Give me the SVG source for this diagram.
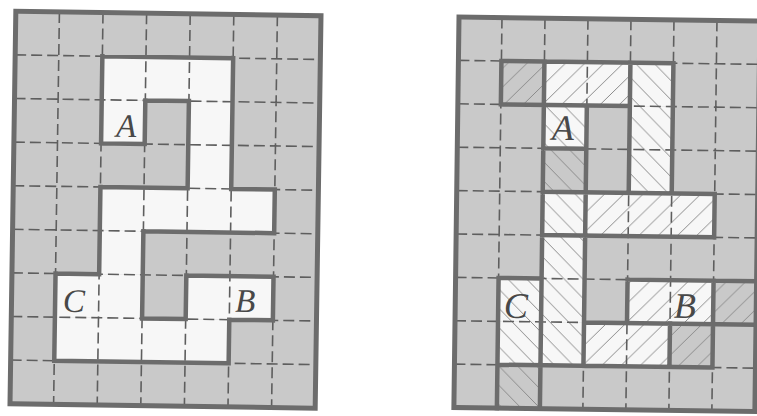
<svg xmlns="http://www.w3.org/2000/svg" width="757" height="416" viewBox="0 0 757 416">
<style>
.bg{fill:#c9c9c9}
.wh{fill:#f7f7f7}
.dash{fill:none;stroke:#5e5e5e;stroke-width:1.6;stroke-dasharray:11 5}
.thick{fill:none;stroke:#6c6c6c;stroke-width:4.5;stroke-linecap:square}
.border{fill:none;stroke:#6c6c6c;stroke-width:5}
.lbl{font-family:"Liberation Serif","DejaVu Serif",serif;font-style:italic;fill:#484848;text-anchor:middle}
.hf{fill:url(#hatchF)}
.hb{fill:url(#hatchB)}
</style>
<defs>
<pattern id="hatchF" patternUnits="userSpaceOnUse" width="19" height="19">
<path d="M-4,4 L4,-4 M0,19 L19,0 M15,23 L23,15" stroke="#8a8a8a" stroke-width="1"/>
</pattern>
<pattern id="hatchB" patternUnits="userSpaceOnUse" width="19" height="19">
<path d="M-4,15 L4,23 M0,0 L19,19 M15,-4 L23,4" stroke="#8a8a8a" stroke-width="1"/>
</pattern>
</defs>
<rect width="757" height="416" fill="#ffffff"/>

<g id="left-grid" transform="translate(165.5,209.75) rotate(0.85) translate(-152.6,-196.2)">
<rect class="bg" x="0" y="0" width="305.2" height="392.4"/>
<g id="left-white">
<rect class="wh" x="87.2" y="43.6" width="130.8" height="43.6"/>
<rect class="wh" x="87.2" y="87.2" width="43.6" height="43.6"/>
<rect class="wh" x="174.4" y="87.2" width="43.6" height="87.2"/>
<rect class="wh" x="87.2" y="174.4" width="174.4" height="43.6"/>
<rect class="wh" x="87.2" y="218" width="43.6" height="43.6"/>
<rect class="wh" x="43.6" y="261.6" width="87.2" height="43.6"/>
<rect class="wh" x="174.4" y="261.6" width="87.2" height="43.6"/>
<rect class="wh" x="43.6" y="305.2" width="174.4" height="43.6"/>
</g>
<path class="dash" d="M43.6,0V392.4M87.2,0V392.4M130.8,0V392.4M174.4,0V392.4M218,0V392.4M261.6,0V392.4M0,43.6H305.2M0,87.2H305.2M0,130.8H305.2M0,174.4H305.2M0,218H305.2M0,261.6H305.2M0,305.2H305.2M0,348.8H305.2"/>
<path class="thick" d="M87.2,43.6H218M130.8,87.2H174.4M87.2,130.8H130.8M87.2,174.4H174.4M218,174.4H261.6M130.8,218H261.6M43.6,261.6H87.2M174.4,261.6H261.6M130.8,305.2H174.4M218,305.2H261.6M43.6,348.8H218M43.6,261.6V348.8M87.2,43.6V130.8M87.2,174.4V261.6M130.8,87.2V130.8M130.8,218V305.2M174.4,87.2V174.4M174.4,261.6V305.2M218,43.6V174.4M218,305.2V348.8M261.6,174.4V218M261.6,261.6V305.2"/>
<rect class="border" x="0" y="0" width="305.2" height="392.4"/>
<text class="lbl" x="112" y="124" font-size="33">A</text>
<text class="lbl" x="62.4" y="299.8" font-size="33">C</text>
<text class="lbl" x="233.8" y="297.2" font-size="33">B</text>
</g>

<g id="right-grid" transform="translate(606.93,214.25) rotate(0.75) translate(-150.5,-195.3)">
<rect class="bg" x="0" y="0" width="301" height="390.6"/>
<g id="right-white">
<rect class="wh" x="86" y="43.4" width="129" height="43.4"/>
<rect class="wh" x="86" y="86.8" width="43" height="43.4"/>
<rect class="wh" x="172" y="86.8" width="43" height="86.8"/>
<rect class="wh" x="86" y="173.6" width="172" height="43.4"/>
<rect class="wh" x="86" y="217" width="43" height="43.4"/>
<rect class="wh" x="43" y="260.4" width="86" height="43.4"/>
<rect class="wh" x="172" y="260.4" width="86" height="43.4"/>
<rect class="wh" x="43" y="303.8" width="172" height="43.4"/>
</g>
<g id="right-hatch">
<rect class="hf" x="43" y="43.4" width="129" height="43.4"/>
<rect class="hf" x="129" y="173.6" width="129" height="43.4"/>
<rect class="hf" x="172" y="260.4" width="129" height="43.4"/>
<rect class="hf" x="129" y="303.8" width="129" height="43.4"/>
<rect class="hb" x="172" y="43.4" width="43" height="130.2"/>
<rect class="hb" x="86" y="86.8" width="43" height="86.8"/>
<rect class="hb" x="86" y="173.6" width="43" height="173.6"/>
<rect class="hb" x="43" y="260.4" width="43" height="130.2"/>
</g>
<path class="dash" d="M43,0V390.6M86,0V390.6M129,0V390.6M172,0V390.6M215,0V390.6M258,0V390.6M0,43.4H301M0,86.8H301M0,130.2H301M0,173.6H301M0,217H301M0,260.4H301M0,303.8H301M0,347.2H301"/>
<path class="thick" d="M43,43.4H215M43,86.8H172M86,130.2H129M86,173.6H258M86,217H258M43,260.4H86M172,260.4H301M129,303.8H301M43,347.2H258M43,43.4V86.8M43,260.4V390.6M86,43.4V390.6M129,86.8V347.2M172,43.4V173.6M172,260.4V303.8M215,43.4V173.6M215,303.8V347.2M258,173.6V217M258,260.4V347.2"/>
<rect class="border" x="0" y="0" width="301" height="390.6"/>
<text class="lbl" x="105.4" y="121.6" font-size="36">A</text>
<text class="lbl" x="60.7" y="300.2" font-size="36">C</text>
<text class="lbl" x="229.7" y="297.9" font-size="36">B</text>
</g>
</svg>
